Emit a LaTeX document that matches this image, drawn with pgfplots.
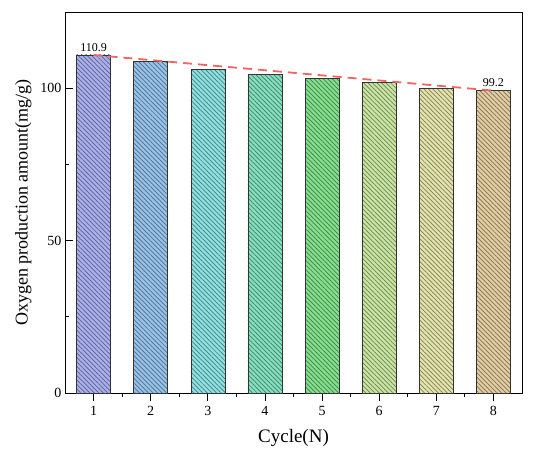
\documentclass[border=0pt]{standalone}
\usepackage{pgfplots}
\pgfplotsset{compat=1.18}
\usepackage{fontspec}
\setmainfont{Liberation Serif}
\usetikzlibrary{patterns.meta}
\definecolor{c1}{RGB}{170,175,240}
\definecolor{c2}{RGB}{150,195,235}
\definecolor{c3}{RGB}{140,225,225}
\definecolor{c4}{RGB}{130,225,190}
\definecolor{c5}{RGB}{130,225,140}
\definecolor{c6}{RGB}{200,230,160}
\definecolor{c7}{RGB}{228,228,170}
\definecolor{c8}{RGB}{228,205,160}
\definecolor{dashred}{RGB}{240,100,100}
\tikzset{hbar/.style={draw=black!80, line width=0.6pt, fill=#1,
  postaction={pattern={Lines[angle=-45,distance=3.2pt,line width=0.7pt]}, pattern color=#1!55!black}}}
\begin{document}
\begin{tikzpicture}
\begin{axis}[
  scale only axis, width=457pt, height=381pt,
  xmin=0.5, xmax=8.5, ymin=0, ymax=125,
  xtick={1,...,8}, minor x tick num=1,
  ytick={0,50,100}, minor y tick num=1,
  tick pos=left, tick align=inside,
  major tick length=8pt, minor tick length=4pt,
  every tick/.style={black, line width=0.8pt},
  axis line style={line width=0.8pt},
  ticklabel style={font=\fontsize{14}{16}\selectfont},
  xticklabel style={yshift=-2pt},
  /pgf/number format/assume math mode=true,
  xlabel={Cycle(N)}, ylabel={Oxygen production amount(mg/g)},
  xlabel style={font=\fontsize{19}{22}\selectfont, yshift=-6pt},
  ylabel style={font=\fontsize{18}{21}\selectfont, yshift=2pt},
  ybar, bar width=34pt,
]
\addplot[hbar=c1, bar shift=0pt] coordinates {(1,110.9)};
\addplot[hbar=c2, bar shift=0pt] coordinates {(2,108.8)};
\addplot[hbar=c3, bar shift=0pt] coordinates {(3,106.2)};
\addplot[hbar=c4, bar shift=0pt] coordinates {(4,104.6)};
\addplot[hbar=c5, bar shift=0pt] coordinates {(5,103.3)};
\addplot[hbar=c6, bar shift=0pt] coordinates {(6,101.9)};
\addplot[hbar=c7, bar shift=0pt] coordinates {(7,100.0)};
\addplot[hbar=c8, bar shift=0pt] coordinates {(8,99.2)};
\addplot[sharp plot, dashred, line width=1.8pt, dash pattern=on 9pt off 6pt] coordinates {(1,110.9) (8,99.2)};
\addplot[only marks, mark=none, nodes near coords, point meta=explicit symbolic,
  every node near coord/.style={font=\fontsize{12}{14}\selectfont, black, anchor=south, yshift=0pt}]
  coordinates {(1,110.9)[110.9] (8,99.2)[99.2]};
\end{axis}
\pgfresetboundingbox
\path ([shift={(-65pt,-55pt)}]current axis.south west) rectangle ([shift={(18pt,12pt)}]current axis.north east);
\end{tikzpicture}
\end{document}
